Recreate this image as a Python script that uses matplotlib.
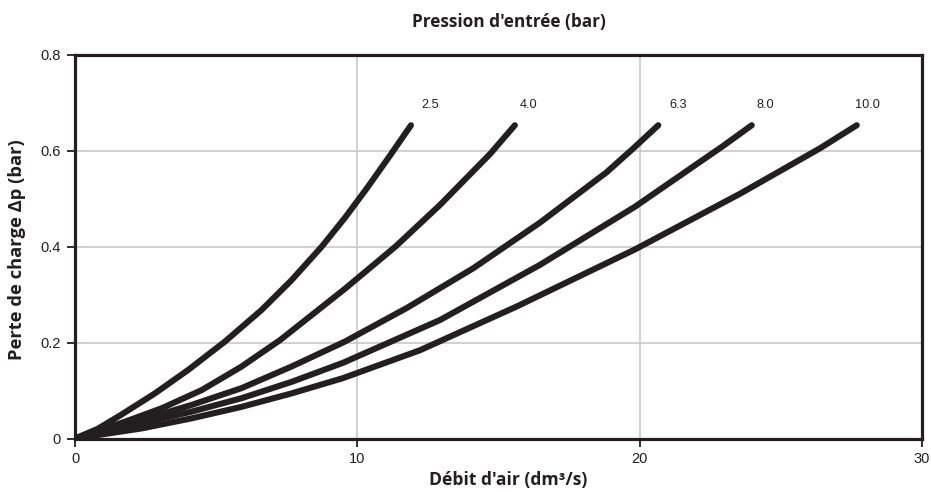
import matplotlib
matplotlib.use("Agg")
import matplotlib.pyplot as plt

# Data
pressures = ["2.5", "4.0", "6.3", "8.0", "10.0"]
x_25 = [0, 0.80, 1.65, 2.83, 4.01, 5.31, 6.61, 7.67, 8.74, 9.56, 10.33, 11.16, 11.90]
y_25 = [0, 0.020, 0.050, 0.094, 0.143, 0.202, 0.268, 0.330, 0.400, 0.460, 0.521, 0.590, 0.653]
x_40 = [0, 1.77, 3.07, 4.49, 5.90, 7.26, 9.56, 11.35, 12.93, 14.70, 15.58]
y_40 = [0, 0.035, 0.063, 0.101, 0.150, 0.205, 0.312, 0.400, 0.487, 0.593, 0.653]
x_63 = [0, 2.36, 4.13, 5.90, 7.67, 9.56, 11.75, 14.11, 16.47, 18.83, 19.78, 20.66]
y_63 = [0, 0.0386, 0.070, 0.105, 0.150, 0.202, 0.272, 0.355, 0.450, 0.555, 0.605, 0.653]
x_80 = [0, 2.36, 4.13, 5.90, 7.67, 9.50, 12.93, 16.47, 19.83, 22.96, 23.97]
y_80 = [0, 0.032, 0.056, 0.084, 0.118, 0.158, 0.247, 0.362, 0.483, 0.610, 0.653]
x_100 = [0, 2.36, 4.13, 5.90, 7.67, 9.50, 12.22, 15.64, 19.83, 23.55, 26.39, 27.69]
y_100 = [0, 0.021, 0.042, 0.066, 0.094, 0.126, 0.184, 0.275, 0.394, 0.510, 0.605, 0.653]

label_x = [12.58, 16.08, 21.35, 24.44, 28.07]
label_y = 0.695

x_ticks = [0, 10, 20, 30]
x_tick_labels = ["0", "10", "20", "30"]
y_ticks = [0, 0.2, 0.4, 0.6, 0.8]
y_tick_labels = ["0", "0.2", "0.4", "0.6", "0.8"]

xs = [x_25, x_40, x_63, x_80, x_100]
ys = [y_25, y_40, y_63, y_80, y_100]

ink = "#231f20"
W, H = 931, 492
fig = plt.figure(figsize=(W / 100, H / 100), dpi=100)
ax = fig.add_axes([75 / W, 1 - 438.5 / H, (922 - 75) / W, (438.5 - 54.7) / H])

ax.set_xlim(0, 30)
ax.set_ylim(0, 0.8)

for x, y in zip(xs, ys):
    ax.plot(x, y, color=ink, lw=4.4, solid_capstyle="round",
            solid_joinstyle="round", zorder=3)

for lx, lab in zip(label_x, pressures):
    ax.text(lx, label_y, lab, ha="center", va="center", fontsize=9.2,
            family="Liberation Sans", color=ink)

ax.set_xticks(x_ticks)
ax.set_xticklabels(x_tick_labels)
ax.set_yticks(y_ticks)
ax.set_yticklabels(y_tick_labels)
ax.tick_params(direction="out", length=6, width=1.3, color=ink,
               labelsize=10.5, labelcolor=ink, pad=4)
for t in ax.get_xticklabels() + ax.get_yticklabels():
    t.set_family("Liberation Sans")

ax.grid(True, color="#c4c4c4", lw=1.1, zorder=0)
ax.set_axisbelow(True)
for s in ax.spines.values():
    s.set_linewidth(2.3)
    s.set_color(ink)
    s.set_zorder(4)

fig.text(509 / W, 1 - 22 / H, "Pression d'entrée (bar)", ha="center",
         va="center", fontsize=12.4, fontweight="bold", family="Open Sans", color=ink)
fig.text(508 / W, 1 - 480 / H, "Débit d'air (dm³/s)", ha="center",
         va="center", fontsize=12.6, fontweight="bold", family="Open Sans", color=ink)
fig.text(17 / W, 1 - 250 / H, "Perte de charge Δp (bar)", ha="center",
         va="center", rotation=90, fontsize=13.2, fontweight="bold",
         family=["Open Sans", "DejaVu Sans"], color=ink)

fig.savefig("out.png", dpi=100)
